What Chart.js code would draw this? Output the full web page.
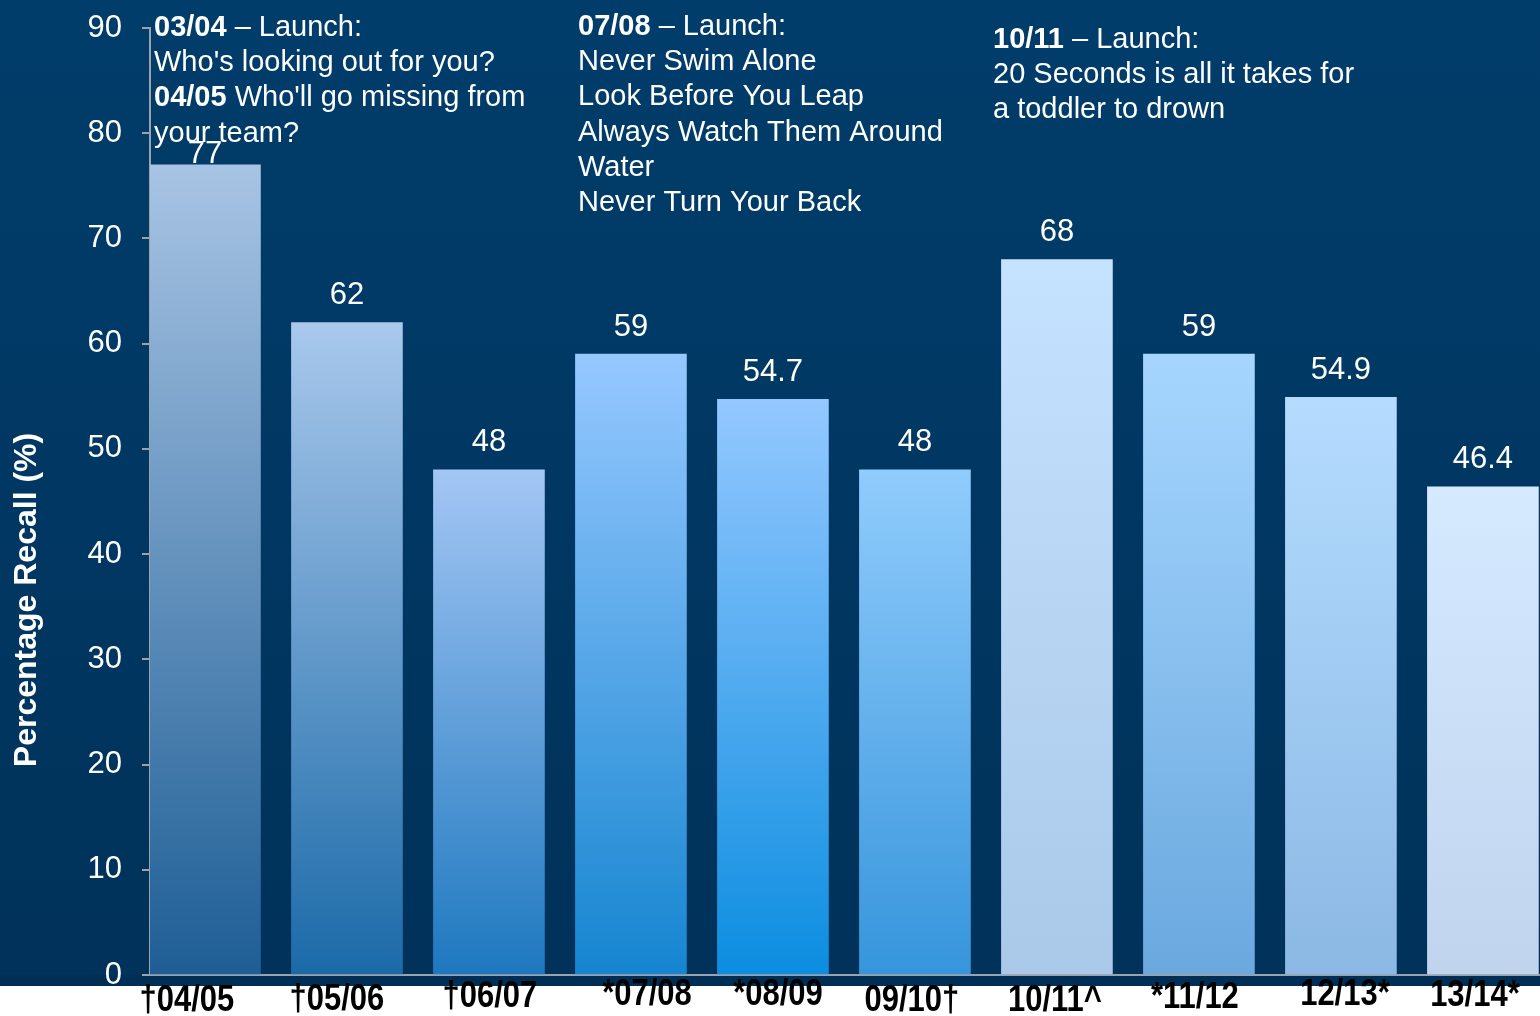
<!DOCTYPE html>
<html>
<head>
<meta charset="utf-8">
<script src="https://cdn.jsdelivr.net/npm/chart.js@4.4.1/dist/chart.umd.min.js"></script>
<style>
  html, body { margin: 0; padding: 0; background: #ffffff; }
  canvas { display: block; }
</style>
</head>
<body>
<canvas id="chart" width="1540" height="1016"></canvas>
<script>
// Data
const seasons = ['†04/05', '†05/06', '†06/07', '*07/08', '*08/09', '09/10†', '10/11^', '*11/12', '12/13*', '13/14*'];
const recall = [77, 62, 48, 59, 54.7, 48, 68, 59, 54.9, 46.4];
const yTickValues = [0, 10, 20, 30, 40, 50, 60, 70, 80, 90];
const yTitle = 'Percentage Recall (%)';

// Campaign notes: each line is a list of [text, bold]
const notesA = [
  [['03/04', true], [' – Launch:', false]],
  [["Who's looking out for you?", false]],
  [['04/05', true], [" Who'll go missing from", false]],
  [['your team?', false]]
];
const notesB = [
  [['07/08', true], [' – Launch:', false]],
  [['Never Swim Alone', false]],
  [['Look Before You Leap', false]],
  [['Always Watch Them Around', false]],
  [['Water', false]],
  [['Never Turn Your Back', false]]
];
const notesC = [
  [['10/11', true], [' – Launch:', false]],
  [['20 Seconds is all it takes for', false]],
  [['a toddler to drown', false]]
];

// Styles
const barTop = ['#a8c4e4', '#a9c8ec', '#a3c6f4', '#96c8ff', '#94c8ff', '#90ccfc', '#c5e2ff', '#a6d6ff', '#b5dcff', '#d5e9ff'];
const barBottom = ['#1e5e95', '#1b6aa8', '#1e78bf', '#1585d0', '#0c8de0', '#3695dc', '#aac8e8', '#6aa8de', '#8bb8e4', '#c0d4ee'];
// small horizontal / vertical nudges of the category labels (px)
const labelNudgeX = [-18, -10, 1, 16, 5, -3, -2, -4, 4, -8];
const labelNudgeY = [3, 2, -1, -3, -3, 3, 3, 0, -3, -2];
const FONT = "'Liberation Sans', Arial, sans-serif";
const AXIS_GREY = '#9aa3ad';

function barFill(ctx) {
  const i = ctx.dataIndex;
  const y = ctx.chart.scales.y;
  if (i === undefined || !y) return barTop[0];
  const top = y.getPixelForValue(recall[i]);
  const base = y.getPixelForValue(0);
  if (!isFinite(top) || !isFinite(base)) return barTop[i];
  const g = ctx.chart.ctx.createLinearGradient(0, top, 0, base);
  g.addColorStop(0, barTop[i]);
  g.addColorStop(1, barBottom[i]);
  return g;
}

// Background panel behind the plot, white under the category labels
const backgroundPlugin = {
  id: 'panel',
  beforeDraw(chart) {
    const { ctx, width, chartArea } = chart;
    const panelBottom = chartArea.bottom + 11;
    ctx.save();
    const g = ctx.createLinearGradient(0, 0, 0, panelBottom);
    g.addColorStop(0, '#013d6b');
    g.addColorStop(1, '#00325a');
    ctx.fillStyle = g;
    ctx.fillRect(0, 0, width, panelBottom);
    ctx.fillStyle = '#002e55';
    ctx.fillRect(0, chartArea.bottom, width, panelBottom - chartArea.bottom);
    ctx.restore();
  }
};

function drawRichLine(ctx, x, y, parts, size) {
  let cx = x;
  parts.forEach(([text, bold]) => {
    ctx.font = (bold ? 'bold ' : '') + size + 'px ' + FONT;
    ctx.fillText(text, cx, y);
    cx += ctx.measureText(text).width;
  });
}

function drawNotes(ctx, notes, x, y0, step) {
  notes.forEach((line, k) => drawRichLine(ctx, x, y0 + k * step, line, 29));
}

// Value labels, category labels, axis title and campaign notes
const textPlugin = {
  id: 'texts',
  afterDraw(chart) {
    const { ctx, chartArea } = chart;
    const xScale = chart.scales.x;
    const yScale = chart.scales.y;
    const meta = chart.getDatasetMeta(0);
    ctx.save();
    ctx.fillStyle = '#ffffff';
    ctx.textAlign = 'center';
    ctx.textBaseline = 'middle';
    ctx.font = '31px ' + FONT;
    const ceil = yScale.getPixelForValue(78.0);
    meta.data.forEach((bar, i) => {
      const ly = Math.max(bar.y - 27, ceil);
      ctx.fillText(String(recall[i]), bar.x, ly);
    });

    // category labels (narrow bold)
    ctx.fillStyle = '#000000';
    ctx.font = 'bold 36px ' + FONT;
    seasons.forEach((s, i) => {
      const cx = xScale.getPixelForValue(i) + labelNudgeX[i];
      const cy = chartArea.bottom + 23 + labelNudgeY[i];
      ctx.save();
      ctx.translate(cx, cy);
      ctx.scale(0.86, 1);
      ctx.fillText(s, 0, 0);
      ctx.restore();
    });

    // y axis title
    ctx.fillStyle = '#ffffff';
    ctx.save();
    ctx.translate(27, 600);
    ctx.rotate(-Math.PI / 2);
    ctx.font = 'bold 32px ' + FONT;
    ctx.fillText(yTitle, 0, 0);
    ctx.restore();

    ctx.textAlign = 'left';
    drawNotes(ctx, notesA, 154, 28, 35.2);
    drawNotes(ctx, notesB, 578, 27, 35.2);
    drawNotes(ctx, notesC, 993, 40, 35.2);
    ctx.restore();
  }
};

new Chart(document.getElementById('chart'), {
  type: 'bar',
  data: {
    datasets: [{
      data: recall.map((v, i) => ({ x: i, y: v })),
      backgroundColor: barFill,
      borderWidth: 0,
      barThickness: 111
    }]
  },
  options: {
    responsive: false,
    animation: false,
    layout: { padding: { top: 28, left: 0, right: 0, bottom: 0 } },
    plugins: {
      legend: { display: false },
      tooltip: { enabled: false }
    },
    scales: {
      x: {
        type: 'linear',
        offset: false,
        min: -0.387,
        max: 9.402,
        grid: { display: false },
        border: { display: true, color: AXIS_GREY, width: 2 },
        ticks: {
          display: false,
          stepSize: 1,
          includeBounds: false
        },
        afterFit: (s) => { s.height = 41; }
      },
      y: {
        min: 0,
        max: 90,
        afterBuildTicks: (s) => { s.ticks = yTickValues.map(v => ({ value: v })); },
        grid: { drawOnChartArea: false, drawTicks: true, tickLength: 8, color: AXIS_GREY, lineWidth: 2 },
        border: { display: true, color: AXIS_GREY, width: 2 },
        ticks: {
          padding: 20,
          color: '#ffffff',
          font: { family: FONT, size: 31 }
        },
        afterFit: (s) => {
          s.width = 150;
          s.paddingTop = 0;
          s.paddingBottom = 0;
        }
      }
    }
  },
  plugins: [backgroundPlugin, textPlugin]
});
</script>
</body>
</html>
